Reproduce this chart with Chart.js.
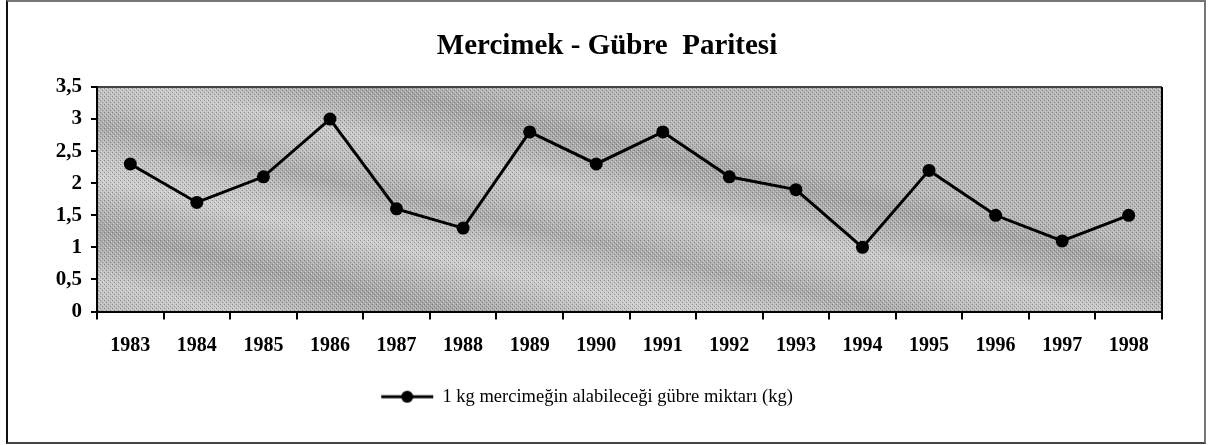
<!DOCTYPE html>
<html>
<head>
<meta charset="utf-8">
<script src="https://cdn.jsdelivr.net/npm/chart.js@4.4.0/dist/chart.umd.min.js"></script>
<style>
html, body { margin: 0; padding: 0; background: #fff; }
#wrap { position: relative; width: 1210px; height: 445px; }
#frame {
    position: absolute; left: 6px; top: 0; width: 1196px; height: 440px;
    border: 2px solid #777; border-left-color: #111; border-bottom-color: #444; pointer-events: none;
}
</style>
</head>
<body>
<div id="wrap">
    <canvas id="chart" width="1210" height="445"></canvas>
    <div id="frame"></div>
</div>
<script>
// Data
const years = ['1983', '1984', '1985', '1986', '1987', '1988', '1989', '1990',
               '1991', '1992', '1993', '1994', '1995', '1996', '1997', '1998'];
const gubreMiktari = [2.3, 1.7, 2.1, 3.0, 1.6, 1.3, 2.8, 2.3, 2.8, 2.1, 1.9, 1.0, 2.2, 1.5, 1.1, 1.5];
const yTickValues = [0, 0.5, 1, 1.5, 2, 2.5, 3, 3.5];
const titleText = 'Mercimek - Gübre  Paritesi';
const seriesLabel = '1 kg mercimeğin alabileceği gübre miktarı (kg)';

const FONT = 'Liberation Serif';

// Legend symbol: short line with a dot in the middle
function makeLegendSymbol() {
    const c = document.createElement('canvas');
    c.width = 54;
    c.height = 14;
    const g = c.getContext('2d');
    g.strokeStyle = '#000';
    g.lineWidth = 3;
    g.beginPath();
    g.moveTo(1, 7);
    g.lineTo(53, 7);
    g.stroke();
    g.fillStyle = '#000';
    g.beginPath();
    g.arc(27, 7, 6, 0, Math.PI * 2);
    g.fill();
    return c;
}

// Halftone-ish dot pattern to roughen the plot background
function makeGrainPattern(ctx) {
    const c = document.createElement('canvas');
    c.width = 4;
    c.height = 4;
    const g = c.getContext('2d');
    g.fillStyle = 'rgba(0,0,0,0.28)';
    g.fillRect(0, 0, 1, 1);
    g.fillRect(2, 2, 1, 1);
    g.fillStyle = 'rgba(255,255,255,0.35)';
    g.fillRect(1, 3, 1, 1);
    g.fillRect(3, 1, 1, 1);
    return ctx.createPattern(c, 'repeat');
}

// Plot area background (diagonal grey bands) and frame
const plotBackground = {
    id: 'plotBackground',
    afterLayout(chart) {
        // the title and legend in the original sit a bit right of the plot centre
        if (chart.titleBlock) {
            chart.titleBlock.left = 52;
        }
        if (chart.legend) {
            chart.legend.left = 12;
        }
    },
    beforeDraw(chart) {
        const { ctx, chartArea: a } = chart;
        const w = a.right - a.left;
        const h = a.bottom - a.top;
        ctx.save();
        const grad = ctx.createLinearGradient(a.left + w * 0.2, a.top - 40, a.left + w * 0.2 - 160, a.top + h + 420);
        const band = ['#b8b8b8', '#a6a6a6', '#b4b4b4', '#cacaca', '#bebebe', '#acacac', '#c3c3c3', '#cecece'];
        const n = 28;
        for (let i = 0; i <= n; i++) {
            grad.addColorStop(i / n, band[i % band.length]);
        }
        ctx.fillStyle = grad;
        ctx.fillRect(a.left, a.top, w, h);
        ctx.fillStyle = makeGrainPattern(ctx);
        ctx.fillRect(a.left, a.top, w, h);

        ctx.lineWidth = 2;
        ctx.strokeStyle = '#444';
        ctx.beginPath();
        ctx.moveTo(a.left, a.top);
        ctx.lineTo(a.right, a.top);
        ctx.stroke();
        ctx.strokeStyle = '#000';
        ctx.beginPath();
        ctx.moveTo(a.right, a.top);
        ctx.lineTo(a.right, a.bottom);
        ctx.stroke();
        ctx.restore();
    }
};

const legendSymbol = makeLegendSymbol();

new Chart(document.getElementById('chart'), {
    type: 'line',
    data: {
        labels: years,
        datasets: [{
            label: seriesLabel,
            data: gubreMiktari,
            borderColor: '#000',
            borderWidth: 3,
            backgroundColor: '#000',
            pointRadius: 6.5,
            pointBorderWidth: 0,
            pointBackgroundColor: '#000',
            tension: 0,
            fill: false
        }]
    },
    options: {
        responsive: false,
        devicePixelRatio: 1,
        animation: false,
        layout: {
            padding: { left: 0, right: 48, top: 0, bottom: 29 }
        },
        plugins: {
            title: {
                display: true,
                text: titleText,
                color: '#000',
                font: { family: FONT, size: 29, weight: 'bold' },
                padding: { top: 29.5, bottom: 22.7 }
            },
            legend: {
                display: true,
                position: 'bottom',
                labels: {
                    color: '#000',
                    font: { family: FONT, size: 18.5 },
                    padding: 10,
                    usePointStyle: true,
                    pointStyleWidth: 52,
                    generateLabels: (chart) => [{
                        text: seriesLabel,
                        pointStyle: legendSymbol,
                        fillStyle: '#000',
                        strokeStyle: '#000',
                        lineWidth: 0,
                        datasetIndex: 0
                    }]
                }
            },
            tooltip: { enabled: false }
        },
        scales: {
            x: {
                offset: true,
                grid: {
                    display: true,
                    drawOnChartArea: false,
                    drawTicks: true,
                    tickLength: 8,
                    color: '#000',
                    lineWidth: 2,
                    offset: true
                },
                border: { display: true, color: '#000', width: 2 },
                ticks: {
                    color: '#000',
                    font: { family: FONT, size: 20, weight: 'bold' },
                    padding: 14,
                    maxRotation: 0,
                    autoSkip: false
                },
                afterFit(scale) { scale.height = 66; }
            },
            y: {
                min: 0,
                max: 3.5,
                afterBuildTicks(scale) {
                    scale.ticks = yTickValues.map(v => ({ value: v }));
                },
                grid: {
                    display: true,
                    drawOnChartArea: false,
                    drawTicks: true,
                    tickLength: 6,
                    color: '#000',
                    lineWidth: 2
                },
                border: { display: true, color: '#000', width: 2 },
                ticks: {
                    color: '#000',
                    font: { family: FONT, size: 21, weight: 'bold' },
                    padding: 9,
                    callback: (v) => String(v).replace('.', ',')
                },
                afterFit(scale) { scale.width = 97; }
            }
        }
    },
    plugins: [plotBackground]
});
</script>
</body>
</html>
